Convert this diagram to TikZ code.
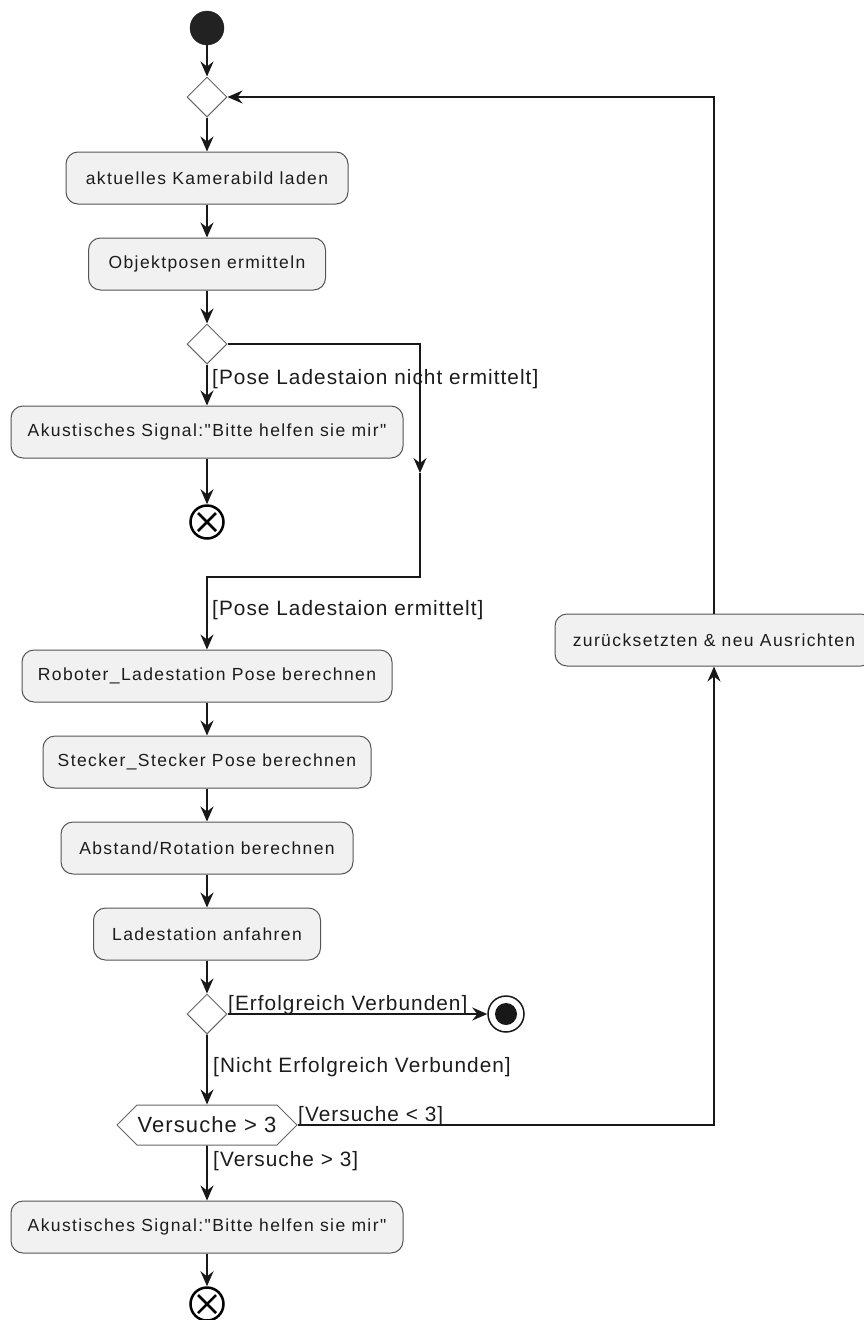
\documentclass[tikz,border=0pt]{standalone}
\usepackage{fontspec}
\setmainfont{Liberation Sans}
\newfontfamily\actfont[LetterSpace=8]{Liberation Sans}
\newfontfamily\guardfont[LetterSpace=5]{Liberation Sans}
\usetikzlibrary{arrows.meta,shapes.geometric,shapes.symbols,calc}
\definecolor{actfill}{HTML}{F1F1F1}
\definecolor{actline}{HTML}{555555}
\definecolor{diamondline}{HTML}{666666}
\definecolor{flowline}{HTML}{181818}
\definecolor{txt}{HTML}{1C1C1C}
\definecolor{startfill}{HTML}{222222}
\begin{document}
\begin{tikzpicture}[x=1pt,y=-1pt,
  act/.style={draw=actline, fill=actfill, line width=1pt, rounded corners=12pt,
    minimum height=52pt, inner xsep=0pt, font=\actfont\fontsize{17.5}{20}\selectfont, text=txt},
  decision/.style={diamond, draw=diamondline, fill=white, line width=1pt,
    minimum size=40pt, inner sep=0pt},
  test/.style={signal, signal to=west and east, signal pointer angle=90,
    draw=diamondline, fill=white, line width=1pt, minimum width=180pt, minimum height=40pt,
    inner xsep=0pt, font=\guardfont\fontsize{22}{24}\selectfont, text=txt},
  flow/.style={draw=flowline, line width=1.8pt,
    -{Stealth[length=15pt,width=13pt,inset=5pt]}},
  guard/.style={font=\guardfont\fontsize{20.8}{23}\selectfont, text=txt,
    anchor=base west, inner sep=0pt},
  flowfinal/.style={circle, draw=black, line width=2.5pt, fill=white,
    minimum size=33pt, inner sep=0pt},
]
\useasboundingbox (0,0) rectangle (864,1320);
\clip (0,0) rectangle (864,1320);

% nodes
\node[circle, fill=startfill, draw=startfill, minimum size=34pt, inner sep=0pt] (start) at (207,28) {};
\node[decision] (d1) at (207,97) {};
\node[act, minimum width=282pt] (load) at (207,178) {aktuelles Kamerabild laden};
\node[act, minimum width=237pt] (pose) at (207,264) {Objektposen ermitteln};
\node[decision] (d2) at (207,344) {};
\node[act, minimum width=392pt] (sig1) at (207,432) {Akustisches Signal:"Bitte helfen sie mir"};
\node[flowfinal] (ff1) at (207,522) {};
\node[act, minimum width=370pt] (rob) at (207,676) {Roboter\_Ladestation Pose berechnen};
\node[act, minimum width=328pt] (stk) at (207,762) {Stecker\_Stecker Pose berechnen};
\node[act, minimum width=292pt] (rot) at (207,848) {Abstand/Rotation berechnen};
\node[act, minimum width=227pt] (lade) at (207,934) {Ladestation anfahren};
\node[decision] (d3) at (207,1014) {};
\node[circle, draw=flowline, line width=1.5pt, fill=white, minimum size=36pt, inner sep=0pt] (fin) at (506,1014) {};
\fill[flowline] (fin) circle (11pt);
\node[test] (hex) at (207,1125) {Versuche > 3};
\node[act, minimum width=392pt] (sig2) at (207,1227) {Akustisches Signal:"Bitte helfen sie mir"};
\node[flowfinal] (ff2) at (207,1304) {};
\node[act, minimum width=318pt] (reset) at (714,640) {zurücksetzten \& neu Ausrichten};

% crosses of the flow-final nodes
\foreach \n in {ff1,ff2}{
  \draw[line width=2.5pt] ($(\n)+(-9,-9)$) -- ($(\n)+(9,9)$);
  \draw[line width=2.5pt] ($(\n)+(-9,9)$) -- ($(\n)+(9,-9)$);
}

% helper points of the bypass branch
\coordinate (m1) at (420,473);
\coordinate (j1) at (420,577);

% connectors
\draw[flow] (start) -- (d1);
\draw[flow] (d1) -- (load);
\draw[flow] (load) -- (pose);
\draw[flow] (pose) -- (d2);
\draw[flow] (d2) -- (sig1);
\draw[flow] (sig1) -- (ff1);
\draw[flow] (d2.east) -| (m1);
\draw[flow] (m1) -- (j1) -| (rob.north);
\draw[flow] (rob) -- (stk);
\draw[flow] (stk) -- (rot);
\draw[flow] (rot) -- (lade);
\draw[flow] (lade) -- (d3);
\draw[flow] (d3) -- (fin);
\draw[flow] (d3) -- (hex);
\draw[flow] (hex) -- (sig2);
\draw[flow] (sig2) -- (ff2);
\draw[flow] (hex.east) -| (reset.south);
\draw[flow] (reset.north) |- (d1.east);

% guards
\node[guard] (g1) at (212,384) {[Pose Ladestaion nicht ermittelt]};
\node[guard] (g2) at (212,615) {[Pose Ladestaion ermittelt]};
\node[guard] (g3) at (228,1010) {[Erfolgreich Verbunden]};
\node[guard] (g4) at (213,1072) {[Nicht Erfolgreich Verbunden]};
\node[guard] (g5) at (298,1121) {[Versuche < 3]};
\node[guard] (g6) at (213,1166) {[Versuche > 3]};
\end{tikzpicture}
\end{document}
